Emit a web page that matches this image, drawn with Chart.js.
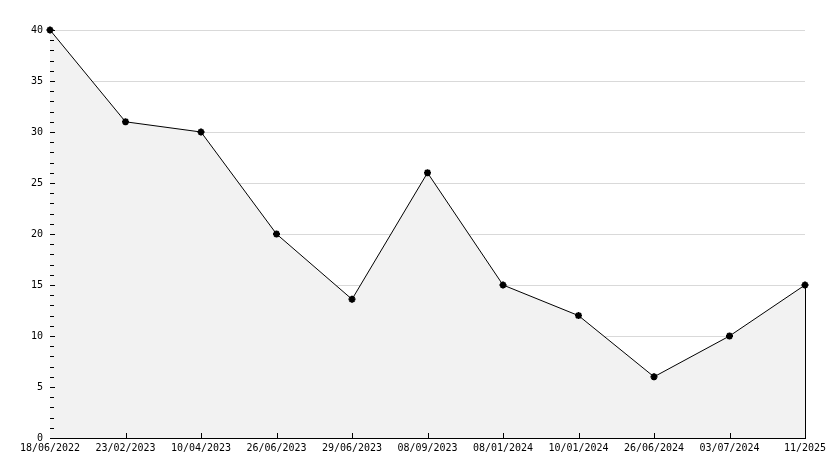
<!DOCTYPE html>
<html>
<head>
<meta charset="utf-8">
<script src="https://cdn.jsdelivr.net/npm/chart.js@4/dist/chart.umd.min.js"></script>
<style>
  html, body { margin: 0; padding: 0; background: #fff; }
  #wrap { width: 834px; height: 468px; }
</style>
</head>
<body>
<div id="wrap"><canvas id="grafico" width="834" height="468"></canvas></div>
<script>
const fechas = ["18/06/2022", "23/02/2023", "10/04/2023", "26/06/2023", "29/06/2023", "08/09/2023", "08/01/2024", "10/01/2024", "26/06/2024", "03/07/2024", "11/2025"];
const valores = [40, 31, 30, 20, 13.6, 26, 15, 12, 6, 10, 15];
const yMin = 0;
const yMax = 40;
const pasoMayor = 5;
const pasoMenor = 1;

// ticks hacia dentro y borde derecho del relleno
const marcasInternas = {
    id: "marcasInternas",
    afterDatasetsDraw(chart) {
        const c = chart.ctx;
        const x = chart.scales.x;
        const y = chart.scales.y;
        c.save();
        c.strokeStyle = "#000";
        c.lineWidth = 1;
        c.beginPath();
        for (let v = yMin; v <= yMax; v += pasoMenor) {
            const py = Math.round(y.getPixelForValue(v)) + 0.5;
            const largo = v % pasoMayor === 0 ? 5 : 4;
            c.moveTo(x.left, py);
            c.lineTo(x.left + largo, py);
        }
        for (let i = 1; i < fechas.length; i++) {
            const px = Math.round(x.getPixelForValue(i)) + 0.5;
            c.moveTo(px, y.bottom);
            c.lineTo(px, y.bottom - 5);
        }
        const ultimo = fechas.length - 1;
        const ux = Math.round(x.getPixelForValue(ultimo)) + 0.5;
        c.moveTo(ux, y.getPixelForValue(valores[ultimo]));
        c.lineTo(ux, y.bottom);
        c.stroke();
        c.restore();
    }
};

const ctx = document.getElementById("grafico").getContext("2d");
const grafico = new Chart(ctx, {
    type: "line",
    data: {
        labels: fechas,
        datasets: [{
            data: valores,
            clip: false,
            borderColor: "#000",
            borderWidth: 1,
            backgroundColor: "#f2f2f2",
            fill: "origin",
            tension: 0,
            pointStyle: "star",
            pointRadius: 3.5,
            pointBorderWidth: 2,
            pointBorderColor: "#000",
            pointBackgroundColor: "#000"
        }]
    },
    options: {
        responsive: false,
        animation: false,
        layout: { padding: { top: 30, right: 29, left: 0, bottom: 0 } },
        plugins: { legend: { display: false }, tooltip: { enabled: false } },
        scales: {
            x: {
                offset: false,
                grid: { display: false, drawTicks: false },
                border: { color: "#000", width: 1 },
                ticks: {
                    color: "#000",
                    font: { family: "DejaVu Sans Mono", size: 10 },
                    padding: 4,
                    maxRotation: 0,
                    autoSkip: false
                },
                afterFit: (s) => { s.height = 30; }
            },
            y: {
                min: yMin,
                max: yMax,
                grid: {
                    drawTicks: false,
                    color: (c) => c.tick && c.tick.value === 0 ? "rgba(0,0,0,0)" : "#d9d9d9"
                },
                border: { color: "#000", width: 1 },
                ticks: {
                    stepSize: pasoMayor,
                    color: "#000",
                    font: { family: "DejaVu Sans Mono", size: 10 },
                    padding: 7
                },
                afterFit: (s) => { s.width = 50; }
            }
        }
    },
    plugins: [marcasInternas]
});
</script>
</body>
</html>
